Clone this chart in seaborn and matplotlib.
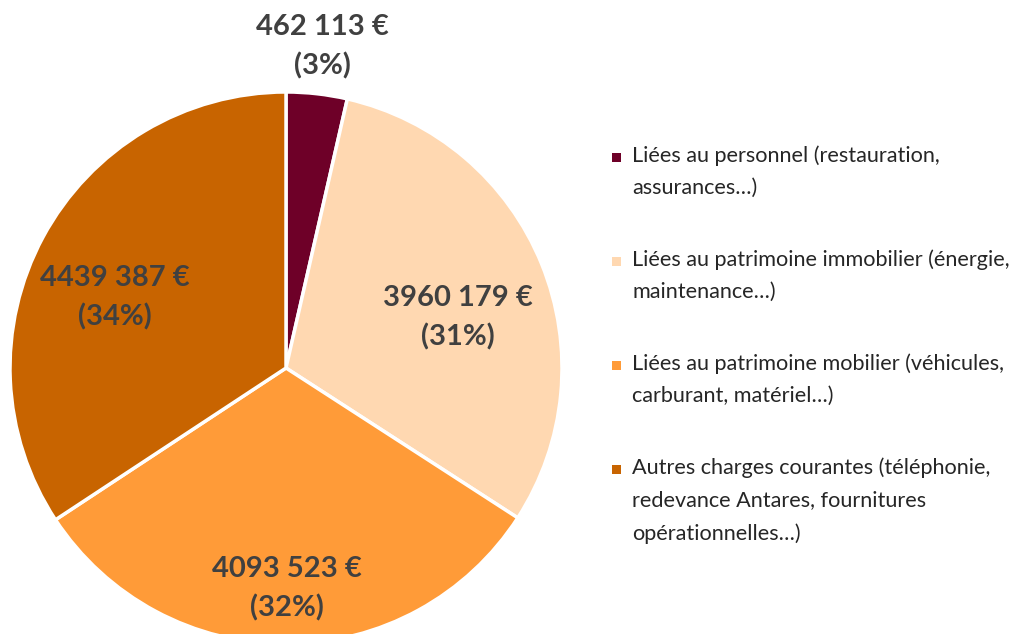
import numpy as np
import matplotlib
matplotlib.use("Agg")
import matplotlib.pyplot as plt
from matplotlib.patches import Rectangle
import seaborn as sns

# data
categories = [
    "Liées au personnel (restauration,\nassurances…)",
    "Liées au patrimoine immobilier (énergie,\nmaintenance…)",
    "Liées au patrimoine mobilier (véhicules,\ncarburant, matériel…)",
    "Autres charges courantes (téléphonie,\nredevance Antares, fournitures\nopérationnelles…)",
]
montants = [462113, 3960179, 4093523, 4439387]
pourcents = [3, 31, 32, 34]
colors = ["#6E0028", "#FFD8B1", "#FF9B38", "#C86400"]

# label placement (distance from centre, angle tweak in degrees)
label_dist = [1.17, 0.65, 0.80, 0.67]
label_shift = [0, -6, 0, 6]

sns.set_theme(style="white")
plt.rcParams["font.family"] = ["Lato", "DejaVu Sans"]
pal = sns.color_palette(colors)

fig = plt.figure(figsize=(10.26, 6.34), dpi=100)
ax = fig.add_axes([10 / 1026, -10 / 634, 552 / 1026, 552 / 634])
wedges, _ = ax.pie(montants, colors=pal, startangle=90, counterclock=False,
                   radius=1, wedgeprops={"edgecolor": "white", "linewidth": 2.5})
ax.set_xlim(-1, 1)
ax.set_ylim(-1, 1)
ax.set_aspect("equal")
ax.axis("off")

def fmt(v):
    s = f"{v:,}".split(",")
    return s[0] + "".join(s[1:-1]) + " " + s[-1] if len(s) > 2 else " ".join(s)

for w, v, p, d, sh in zip(wedges, montants, pourcents, label_dist, label_shift):
    ang = np.deg2rad((w.theta1 + w.theta2) / 2 + sh)
    ax.text(d * np.cos(ang), d * np.sin(ang), f"{fmt(v)} €\n({p}%)",
            ha="center", va="center", fontsize=21, fontweight="bold",
            color="#404040", linespacing=1.55, clip_on=False)

# legend drawn by hand so the square sits on the first line
y0 = 157
step = 104
for i, (lab, c) in enumerate(zip(categories, pal)):
    y = y0 + i * step
    fig.text(632 / 1026, 1 - (y - 12) / 634, lab, ha="left", va="top",
             fontsize=15.6, color="#262626", linespacing=1.78)
    fig.add_artist(Rectangle((612 / 1026, 1 - (y + 5) / 634), 9 / 1026, 9 / 634,
                             transform=fig.transFigure, facecolor=c, edgecolor="none"))

fig.savefig("out.png", dpi=100)
